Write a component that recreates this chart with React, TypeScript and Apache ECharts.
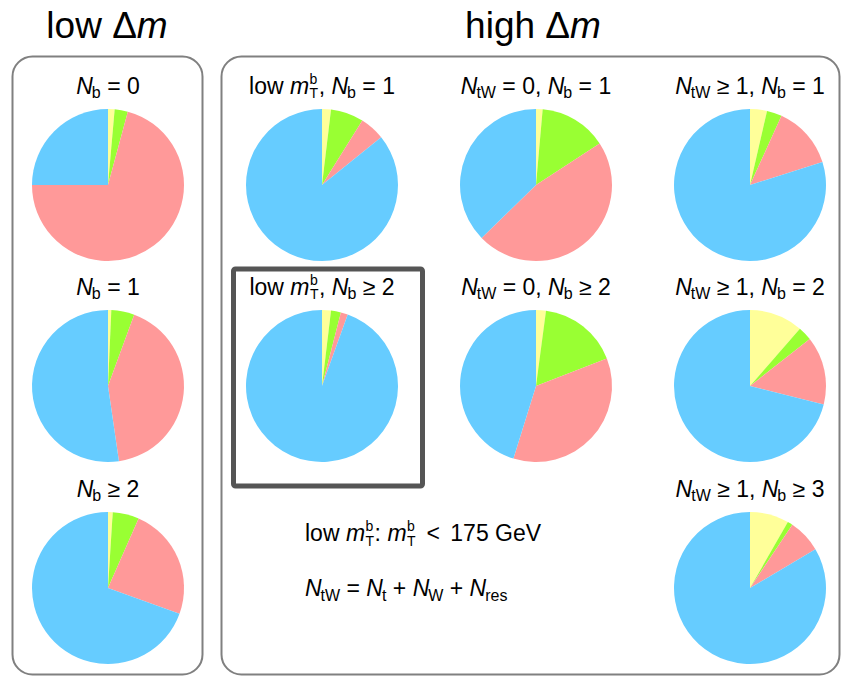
import React, { useEffect, useRef } from "react";
import * as echarts from "echarts";

// Background composition per search region (percent of total)
const categories = ["ttZ + rare", "QCD multijet", "Z → νν", "lost lepton"];
const colors = ["#ffff99", "#99ff33", "#ff9999", "#66ccff"];

// Region order: low Δm (Nb=0, Nb=1, Nb≥2), low mTb (Nb=1, Nb≥2),
// NtW=0 (Nb=1, Nb≥2), NtW≥1 (Nb=1, Nb=2, Nb≥3)
const ttzRare = [1.4, 0.7, 1.0, 1.9, 1.9, 1.4, 2.1, 3.6, 11.4, 8.3];
const qcdMultijet = [2.8, 4.9, 5.6, 7.0, 2.1, 14.4, 17.0, 3.2, 3.0, 1.1];
const zNuNu = [70.8, 42.1, 23.9, 5.3, 1.5, 46.9, 35.7, 13.3, 14.5, 7.1];
const lostLepton = [25.0, 52.3, 69.5, 85.8, 94.5, 37.3, 45.2, 79.9, 71.1, 83.5];
const seriesValues = [ttzRare, qcdMultijet, zNuNu, lostLepton];

// ---- text layout helpers (italic symbols, sub/superscripts) ----
type Part =
  | { kind: "r" | "i" | "sub" | "sup"; t: string }
  | { kind: "gap"; w: number }
  | { kind: "stack"; sup: string; sub: string };

const R = (t: string): Part => ({ kind: "r", t });
const I = (t: string): Part => ({ kind: "i", t });
const Sb = (t: string): Part => ({ kind: "sub", t });
const G = (w: number): Part => ({ kind: "gap", w });
const St = (sup: string, sub: string): Part => ({ kind: "stack", sup, sub });

const regionTitles: Part[][] = [
  [I("N"), Sb("b"), R(" = 0")],
  [I("N"), Sb("b"), R(" = 1")],
  [I("N"), Sb("b"), R(" ≥ 2")],
  [R("low "), I("m"), St("b", "T"), R(", "), I("N"), Sb("b"), R(" = 1")],
  [R("low "), I("m"), St("b", "T"), R(", "), I("N"), Sb("b"), R(" ≥ 2")],
  [I("N"), Sb("tW"), R(" = 0, "), I("N"), Sb("b"), R(" = 1")],
  [I("N"), Sb("tW"), R(" = 0, "), I("N"), Sb("b"), R(" ≥ 2")],
  [I("N"), Sb("tW"), R(" ≥ 1, "), I("N"), Sb("b"), R(" = 1")],
  [I("N"), Sb("tW"), R(" ≥ 1, "), I("N"), Sb("b"), R(" = 2")],
  [I("N"), Sb("tW"), R(" ≥ 1, "), I("N"), Sb("b"), R(" ≥ 3")],
];

const headingLow: Part[] = [R("low Δ"), I("m")];
const headingHigh: Part[] = [R("high Δ"), I("m")];
const noteMtb: Part[] = [
  R("low "), I("m"), St("b", "T"), R(": "), I("m"), St("b", "T"),
  G(4), R(" < "), G(4), R("175 GeV"),
];
const noteNtw: Part[] = [
  I("N"), Sb("tW"), R(" = "), I("N"), Sb("t"), R(" + "), I("N"), Sb("W"),
  R(" + "), I("N"), Sb("res"),
];

// ---- layout ----
const FAMILY = '"Liberation Sans", Arial, Helvetica, sans-serif';
const PIE_R = 76;
const colX = [108, 322, 536, 750];
const rowY = [185, 386, 588];
const pieCenters: [number, number][] = [
  [colX[0], rowY[0]], [colX[0], rowY[1]], [colX[0], rowY[2]],
  [colX[1], rowY[0]], [colX[1], rowY[1]],
  [colX[2], rowY[0]], [colX[2], rowY[1]],
  [colX[3], rowY[0]], [colX[3], rowY[1]], [colX[3], rowY[2]],
];

let measureCtx: CanvasRenderingContext2D | null = null;
function measure(text: string, font: string): number {
  if (!measureCtx) measureCtx = document.createElement("canvas").getContext("2d");
  measureCtx!.font = font;
  return measureCtx!.measureText(text).width;
}
const fontOf = (size: number, italic: boolean) =>
  `${italic ? "italic " : ""}${size}px ${FAMILY}`;

// SVG "central" baseline sits this fraction of the font size above the alphabetic one
const CENTRAL = 0.3467;

function textEl(t: string, x: number, y: number, font: string, lineHeight?: number) {
  return {
    type: "text",
    silent: true,
    x,
    y,
    style: {
      text: t,
      font,
      fill: "#000",
      align: "left",
      verticalAlign: "middle",
      textAlign: "left",
      textVerticalAlign: "middle",
      ...(lineHeight ? { lineHeight } : {}),
    },
  };
}

function mathText(
  parts: Part[],
  anchorX: number,
  baseline: number,
  main: number,
  align: "center" | "left"
) {
  const script = Math.round(main * 0.7);
  const drop = script * 0.3;
  const rise = script * 0.62;
  const stackSize = Math.round(main * 0.62);
  const stackRise = 10;
  const stackDrop = 4.5;
  const pieces: { t: string; x: number; y: number; font: string; lh?: number }[] = [];
  let x = 0;
  for (const p of parts) {
    if (p.kind === "gap") {
      x += p.w;
    } else if (p.kind === "stack") {
      const f = fontOf(stackSize, false);
      const w = Math.max(measure(p.sup, f), measure(p.sub, f));
      const lh = stackRise + stackDrop;
      // two-line block: upper line is the superscript, lower line the subscript
      const y = baseline - stackRise - CENTRAL * stackSize + lh / 2;
      pieces.push({ t: `${p.sup}\n${p.sub}`, x: x + 0.5, y, font: f, lh });
      x += w + 1;
    } else {
      const isScript = p.kind === "sub" || p.kind === "sup";
      const size = isScript ? script : main;
      const italic = p.kind === "i";
      const font = fontOf(size, italic);
      const w = measure(p.t, font);
      const dx = p.kind === "sub" ? -1 : 0;
      const dy = p.kind === "sub" ? drop : p.kind === "sup" ? -rise : 0;
      pieces.push({ t: p.t, x: x + dx, y: baseline + dy - CENTRAL * size, font });
      x += w + dx;
    }
  }
  const x0 = align === "center" ? anchorX - x / 2 : anchorX;
  return pieces.map((pc) => textEl(pc.t, x0 + pc.x, pc.y, pc.font, pc.lh));
}

function buildOption() {
  const series = pieCenters.map((c, i) => ({
    type: "pie",
    center: c,
    radius: PIE_R,
    startAngle: 90,
    clockwise: true,
    silent: true,
    label: { show: false },
    labelLine: { show: false },
    emphasis: { disabled: true },
    itemStyle: { borderWidth: 0 },
    data: categories.map((name, k) => ({ name, value: seriesValues[k][i] })),
  }));

  const graphics: any[] = [
    {
      type: "rect",
      silent: true,
      shape: { x: 12.5, y: 56.5, width: 190, height: 618, r: 20 },
      style: { fill: "none", stroke: "#808080", lineWidth: 2 },
    },
    {
      type: "rect",
      silent: true,
      shape: { x: 221.5, y: 56.5, width: 618, height: 618, r: 20 },
      style: { fill: "none", stroke: "#808080", lineWidth: 2 },
    },
    {
      type: "rect",
      silent: true,
      shape: { x: 233.5, y: 269, width: 189, height: 217, r: 2 },
      style: { fill: "none", stroke: "#555555", lineWidth: 5 },
    },
    ...mathText(headingLow, 107, 38, 37, "center"),
    ...mathText(headingHigh, 533, 38, 37, "center"),
    ...mathText(noteMtb, 305, 541, 23, "left"),
    ...mathText(noteNtw, 305, 596, 23, "left"),
  ];
  pieCenters.forEach((c, i) => {
    graphics.push(...mathText(regionTitles[i], c[0], c[1] - 91.5, 23, "center"));
  });

  return {
    animation: false,
    backgroundColor: "#ffffff",
    color: colors,
    series,
    graphic: { elements: graphics },
  };
}

export default function App() {
  const ref = useRef<HTMLDivElement>(null);
  useEffect(() => {
    if (!ref.current) return;
    const chart = echarts.init(ref.current, null, { renderer: "svg" });
    chart.setOption(buildOption() as any);
    return () => chart.dispose();
  }, []);
  return (
    <div
      ref={ref}
      style={{ position: "absolute", left: 0, top: 0, width: 842, height: 676 }}
    />
  );
}
